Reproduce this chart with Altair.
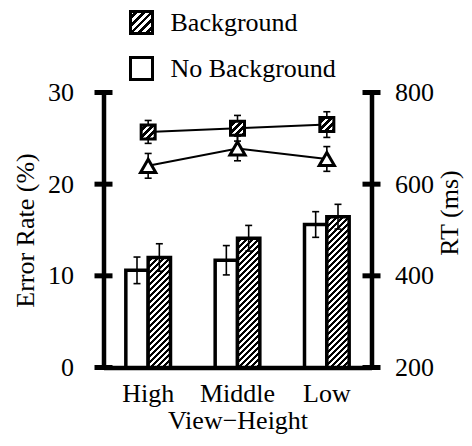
import altair as alt
import pandas as pd

# ---- data ----
levels = ["High", "Middle", "Low"]
conditions = ["Background", "No Background"]

err_bg = [12.0, 14.1, 16.45]
err_bg_se = [1.5, 1.4, 1.35]
err_nobg = [10.6, 11.7, 15.6]
err_nobg_se = [1.45, 1.6, 1.4]

rt_bg = [714, 722, 730]
rt_bg_se = [25, 28, 28]
rt_nobg = [640, 678, 655]
rt_nobg_se = [27, 27, 27]

err_ticks = [0, 10, 20, 30]
rt_ticks = [200, 400, 600, 800]

# ---- layout constants ----
W_PLOT, H_PLOT = 268, 275
FONT = "Liberation Serif"
FS = 26
STEP = W_PLOT / 3.0
BAR_W = STEP * 0.5 / 2.0


def hatch(w, h, p, dark=0.5):
    L = w + h
    s = L * w / (w * w + h * h)
    pt = p / L
    stops = []
    t = 0.0
    while t < 1.0:
        a = min(t + pt * (1 - dark), 1.0)
        b = min(t + pt, 1.0)
        stops += [(t, "white"), (a, "white"), (a, "black"), (b, "black")]
        t += pt
    return {
        "gradient": "linear",
        "x1": 0, "y1": 0, "x2": s, "y2": s * h / w,
        "stops": [{"offset": round(o, 5), "color": c} for o, c in stops],
    }


rows = []
for i, lv in enumerate(levels):
    rows.append({"level": lv, "cond": conditions[0], "err": err_bg[i],
                 "elo": err_bg[i] - err_bg_se[i], "ehi": err_bg[i] + err_bg_se[i],
                 "rt": rt_bg[i], "rlo": rt_bg[i] - rt_bg_se[i], "rhi": rt_bg[i] + rt_bg_se[i]})
    rows.append({"level": lv, "cond": conditions[1], "err": err_nobg[i],
                 "elo": err_nobg[i] - err_nobg_se[i], "ehi": err_nobg[i] + err_nobg_se[i],
                 "rt": rt_nobg[i], "rlo": rt_nobg[i] - rt_nobg_se[i], "rhi": rt_nobg[i] + rt_nobg_se[i]})
df = pd.DataFrame(rows)

x_scale = alt.Scale(domain=levels, paddingInner=0.5, paddingOuter=0.25)
x_axis = alt.Axis(title="View−Height", labelAngle=0, ticks=False,
                  domainWidth=4.5, domainColor="black",
                  labelFont=FONT, labelFontSize=FS, labelColor="black",
                  labelBaseline="alphabetic", labelPadding=34,
                  titleFont=FONT, titleFontSize=FS, titleFontWeight="normal",
                  titleColor="black", titleBaseline="alphabetic", titleY=61)


def X():
    return alt.X("level:N", sort=levels, scale=x_scale, axis=x_axis)


xoff = alt.XOffset("cond:N", scale=alt.Scale(domain=[conditions[1], conditions[0]],
                                              paddingInner=0, paddingOuter=0))

yerr_axis = alt.Axis(values=err_ticks, ticks=False, grid=False, domainWidth=4.5,
                     domainColor="black", labelFont=FONT, labelFontSize=FS,
                     labelColor="black", labelPadding=30,
                     title="Error Rate (%)", titleFont=FONT, titleFontSize=FS,
                     titleFontWeight="normal", titleColor="black", titleAngle=270,
                     titleX=-78, titleY=H_PLOT / 2, titleAlign="center",
                     titleBaseline="middle")
yerr_scale = alt.Scale(domain=[0, 30], nice=False)


def YE(field):
    return alt.Y(field, scale=yerr_scale, axis=yerr_axis)


base = alt.Chart(df)

white_bars = base.transform_filter(alt.datum.cond == conditions[1]).mark_bar(
    fill="white", stroke="black", strokeWidth=3.5).encode(
    x=X(), xOffset=xoff, y=YE("err:Q"))

hatched = []
for i, lv in enumerate(levels):
    h = err_bg[i] * H_PLOT / 30.0
    hatched.append(
        base.transform_filter((alt.datum.cond == conditions[0]) & (alt.datum.level == lv))
        .mark_bar(fill=hatch(BAR_W, h, 6.0), stroke="black", strokeWidth=3.5)
        .encode(x=X(), xOffset=xoff, y=YE("err:Q"))
    )

e_rule = base.mark_rule(color="black", strokeWidth=1.6).encode(
    x=X(), xOffset=xoff, y=YE("elo:Q"), y2="ehi:Q")
e_cap_lo = base.mark_tick(color="black", size=7, thickness=1.6, opacity=1).encode(
    x=X(), xOffset=xoff, y=YE("elo:Q"))
e_cap_hi = base.mark_tick(color="black", size=7, thickness=1.6, opacity=1).encode(
    x=X(), xOffset=xoff, y=YE("ehi:Q"))

lt = alt.Chart(pd.DataFrame({"tick": err_ticks})).mark_rule(
    color="black", strokeWidth=5).encode(
    y=YE("tick:Q"), x=alt.value(-9), x2=alt.value(9))

# legend
leg_sq1 = alt.Chart(pd.DataFrame({"l": [conditions[0]]})).mark_square(
    size=484, fill=hatch(22, 22, 8.0, 0.5), stroke="black", strokeWidth=3, opacity=1).encode(
    x=alt.value(38), y=alt.value(-70))
leg_sq2 = alt.Chart(pd.DataFrame({"l": [conditions[1]]})).mark_square(
    size=484, fill="white", stroke="black", strokeWidth=3, opacity=1).encode(
    x=alt.value(38), y=alt.value(-24))
leg_t1 = alt.Chart(pd.DataFrame({"l": [conditions[0]]})).mark_text(
    font=FONT, fontSize=FS, align="left", baseline="middle", color="black").encode(
    x=alt.value(67), y=alt.value(-70), text="l:N")
leg_t2 = alt.Chart(pd.DataFrame({"l": [conditions[1]]})).mark_text(
    font=FONT, fontSize=FS, align="left", baseline="middle", color="black").encode(
    x=alt.value(67), y=alt.value(-24), text="l:N")

left = alt.layer(white_bars, *hatched, e_rule, e_cap_lo, e_cap_hi, lt,
                 leg_sq1, leg_sq2, leg_t1, leg_t2)

# ---- RT layer ----
yrt_scale = alt.Scale(domain=[200, 800], nice=False)
yrt_axis = alt.Axis(values=rt_ticks, ticks=False, grid=False, orient="right",
                    domainWidth=4.5, domainColor="black", labelFont=FONT,
                    labelFontSize=FS, labelColor="black", labelPadding=23,
                    title="RT (ms)", titleFont=FONT, titleFontSize=FS,
                    titleFontWeight="normal", titleColor="black", titleAngle=270,
                    titleX=78, titleY=120, titleAlign="center", titleBaseline="middle")


def YR(field):
    return alt.Y(field, scale=yrt_scale, axis=yrt_axis)


r_rule = base.mark_rule(color="black", strokeWidth=1.6).encode(
    x=X(), y=YR("rlo:Q"), y2="rhi:Q")
r_cap_lo = base.mark_tick(color="black", size=7, thickness=1.6, opacity=1).encode(
    x=X(), y=YR("rlo:Q"))
r_cap_hi = base.mark_tick(color="black", size=7, thickness=1.6, opacity=1).encode(
    x=X(), y=YR("rhi:Q"))
r_line = base.mark_line(color="black", strokeWidth=2).encode(
    x=X(), y=YR("rt:Q"), detail="cond:N")
r_sq = base.transform_filter(alt.datum.cond == conditions[0]).mark_square(
    size=196, fill=hatch(14, 14, 7.0, 0.55), stroke="black", strokeWidth=3, opacity=1).encode(
    x=X(), y=YR("rt:Q"))
r_tri = base.transform_filter(alt.datum.cond == conditions[1]).mark_point(
    shape="triangle-up", size=230, filled=True, fill="white", stroke="black",
    strokeWidth=3, opacity=1).encode(
    x=X(), y=YR("rt:Q"))
rtk = alt.Chart(pd.DataFrame({"tick": rt_ticks})).mark_rule(
    color="black", strokeWidth=5).encode(
    y=YR("tick:Q"), x=alt.value(W_PLOT - 9), x2=alt.value(W_PLOT + 9))

right = alt.layer(r_rule, r_cap_lo, r_cap_hi, r_line, r_sq, r_tri, rtk)

chart = alt.layer(left, right).resolve_scale(y="independent").properties(
    width=W_PLOT, height=H_PLOT,
    autosize=alt.AutoSizeParams(type="none"),
    padding={"left": 95.5, "top": 84.5, "right": 92, "bottom": 66},
    background="white",
).configure_view(strokeWidth=0)

chart.save("out.html", embed_options={"renderer": "svg", "actions": False})
